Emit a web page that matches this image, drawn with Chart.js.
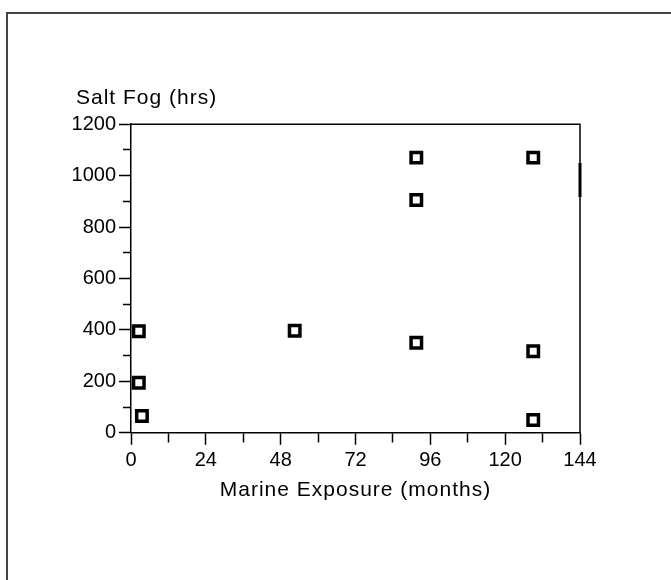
<!DOCTYPE html>
<html>
<head>
<meta charset="utf-8">
<script src="https://cdn.jsdelivr.net/npm/chart.js@4"></script>
<style>
  html, body { margin: 0; padding: 0; background: #fff; }
  #wrap { width: 671px; height: 580px; }
</style>
</head>
<body>
<div id="wrap"><canvas id="c" width="671" height="580"></canvas></div>
<script>
// ---- data ----
const exposureMonths = [2.5, 2.5, 3.5, 52.5, 91.5, 91.5, 91.5, 129, 129, 129];
const saltFogHours   = [395, 195, 65, 397, 1070, 905, 350, 1070, 317, 50];
const xTickLabels = [0, 24, 48, 72, 96, 120, 144];
const yTickLabels = [0, 200, 400, 600, 800, 1000, 1200];
const xAxisTitle = 'Marine Exposure (months)';
const yAxisTitle = 'Salt Fog (hrs)';

const FONT = '"Liberation Sans", Arial, Helvetica, sans-serif';

const points = exposureMonths.map((x, i) => ({ x: x, y: saltFogHours[i] }));

const framePlugin = {
  id: 'frame',
  afterLayout(chart) {
    // let the y tick labels extend left of the layout padding without clipping
    chart.scales.y.left = 30;
  },
  beforeDraw(chart) {
    const ctx = chart.ctx;
    ctx.save();
    ctx.fillStyle = '#fff';
    ctx.fillRect(0, 0, chart.width, chart.height);
    ctx.strokeStyle = '#444';
    ctx.lineWidth = 2;
    ctx.beginPath();
    ctx.moveTo(671, 13);
    ctx.lineTo(7, 13);
    ctx.lineTo(7, 580);
    ctx.stroke();
    ctx.restore();
    // slightly wider lettering for the titles (drawn before datasets)
    ctx.letterSpacing = '1px';
  },
  beforeDatasetsDraw(chart) {
    chart.ctx.letterSpacing = '0px';
  },
  afterDraw(chart) {
    const ctx = chart.ctx;
    const a = chart.chartArea;
    ctx.save();
    ctx.strokeStyle = '#000';
    ctx.lineWidth = 1.5;
    ctx.beginPath();
    ctx.moveTo(a.left, a.top);
    ctx.lineTo(a.right, a.top);
    ctx.lineTo(a.right, a.bottom);
    ctx.stroke();
    ctx.lineWidth = 3;
    ctx.beginPath();
    ctx.moveTo(a.right, 163);
    ctx.lineTo(a.right, 197);
    ctx.stroke();
    ctx.restore();
  }
};

new Chart(document.getElementById('c'), {
  type: 'scatter',
  data: {
    datasets: [{
      data: points,
      pointStyle: 'rect',
      pointRadius: 7.4,
      pointHoverRadius: 7.4,
      borderWidth: 3.5,
      borderColor: '#000',
      backgroundColor: '#fff'
    }]
  },
  options: {
    responsive: false,
    animation: false,
    devicePixelRatio: 1,
    layout: { padding: { left: 76, top: 86, right: 91, bottom: 77 } },
    plugins: {
      legend: { display: false },
      tooltip: { enabled: false },
      title: {
        display: true,
        text: yAxisTitle,
        align: 'start',
        color: '#000',
        font: { family: FONT, size: 21, weight: 'normal' },
        padding: { top: 0, bottom: 13 }
      }
    },
    scales: {
      x: {
        type: 'linear',
        position: 'bottom',
        min: 0,
        max: 144,
        afterBuildTicks: (s) => { s.ticks = []; for (let v = 0; v <= 144; v += 12) s.ticks.push({ value: v }); },
        ticks: {
          stepSize: 12,
          autoSkip: false,
          maxRotation: 0,
          padding: 4,
          color: '#000',
          z: 1,
          font: { family: FONT, size: 20 },
          callback: (v) => xTickLabels.includes(v) ? String(v) : ''
        },
        grid: {
          drawOnChartArea: false,
          tickLength: 12,
          tickWidth: 1.5,
          tickColor: '#000',
          tickBorderDash: (c) => (c.tick && xTickLabels.includes(c.tick.value)) ? [] : [9, 100]
        },
        border: { color: '#000', width: 1.5 },
        title: {
          display: true,
          text: xAxisTitle,
          color: '#000',
          font: { family: FONT, size: 21 },
          padding: { top: 1, bottom: 0 }
        }
      },
      y: {
        type: 'linear',
        position: 'left',
        min: 0,
        max: 1200,
        afterBuildTicks: (s) => { s.ticks = []; for (let v = 0; v <= 1200; v += 100) s.ticks.push({ value: v }); },
        afterFit: (s) => { s.width = 55; },
        ticks: {
          stepSize: 100,
          autoSkip: false,
          padding: 3,
          color: '#000',
          z: 1,
          font: { family: FONT, size: 20 },
          callback: (v) => yTickLabels.includes(v) ? String(v) : ''
        },
        grid: {
          drawOnChartArea: false,
          tickLength: 12,
          tickWidth: 1.5,
          tickColor: '#000',
          tickBorderDash: (c) => (c.tick && yTickLabels.includes(c.tick.value)) ? [] : [0, 4, 100]
        },
        border: { color: '#000', width: 1.5 }
      }
    }
  },
  plugins: [framePlugin]
});
</script>
</body>
</html>
